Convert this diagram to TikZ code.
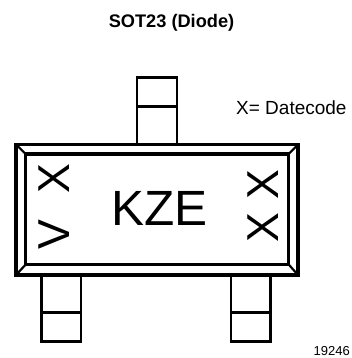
\documentclass[tikz,border=0pt]{standalone}
\usepackage{fontspec}
\setmainfont{Liberation Sans}
\newcommand{\fsz}[1]{\fontsize{#1}{#1}\selectfont}
\tikzset{
  lead/.style={draw=black,line width=2.7pt,fill=white,line join=miter},
  body/.style={draw=black,line width=3.5pt,line join=miter},
  bevel/.style={draw=black,line width=2.2pt},
  mark glyph/.style={inner sep=0pt,font=\fsz{44.7},rotate=90,anchor=center},
  label text/.style={inner sep=0pt,anchor=base west,text=black},
}
\begin{document}
\begin{tikzpicture}[x=1pt,y=-1pt]
\useasboundingbox (0,0) rectangle (352,358);
\fill[white] (0,0) rectangle (352,358);
% leads
\draw[lead] (137,144) -- (137,77.7) -- (177,77.7) -- (177,144);
\draw[lead] (137,106.7) -- (177,106.7);
\draw[lead] (41.5,275) -- (41.5,341.7) -- (81,341.7) -- (81,275);
\draw[lead] (41.5,312.7) -- (81,312.7);
\draw[lead] (231,275) -- (231,341.7) -- (270.7,341.7) -- (270.7,275);
\draw[lead] (231,312.7) -- (270.7,312.7);
% body
\draw[body] (16,144.5) rectangle (298,275);
\draw[body] (25.7,154) rectangle (288.7,264.5);
\draw[bevel] (16,144.5) -- (25.7,154);
\draw[bevel] (298,144.5) -- (288.7,154);
\draw[bevel] (16,275) -- (25.7,264.5);
\draw[bevel] (298,275) -- (288.7,264.5);
% marking
\node[mark glyph] (lx) at (54,179) {X};
\node[mark glyph] (lv) at (54,235) {V};
\node[mark glyph] (rx1) at (263,185) {X};
\node[mark glyph] (rx2) at (263,228) {X};
\node[inner sep=0pt,font=\fsz{49.5},anchor=base] (kze) at (159.5,225) {KZE};
% labels
\node[label text,font=\fsz{18.2}\bfseries,anchor=base] (title) at (171.5,27.5) {SOT23 (Diode)};
\node[label text,font=\fsz{19}] (dc) at (236,114.5) {X= Datecode};
\node[label text,font=\fsz{13}] (num) at (313.5,355) {19246};
\end{tikzpicture}
\end{document}
